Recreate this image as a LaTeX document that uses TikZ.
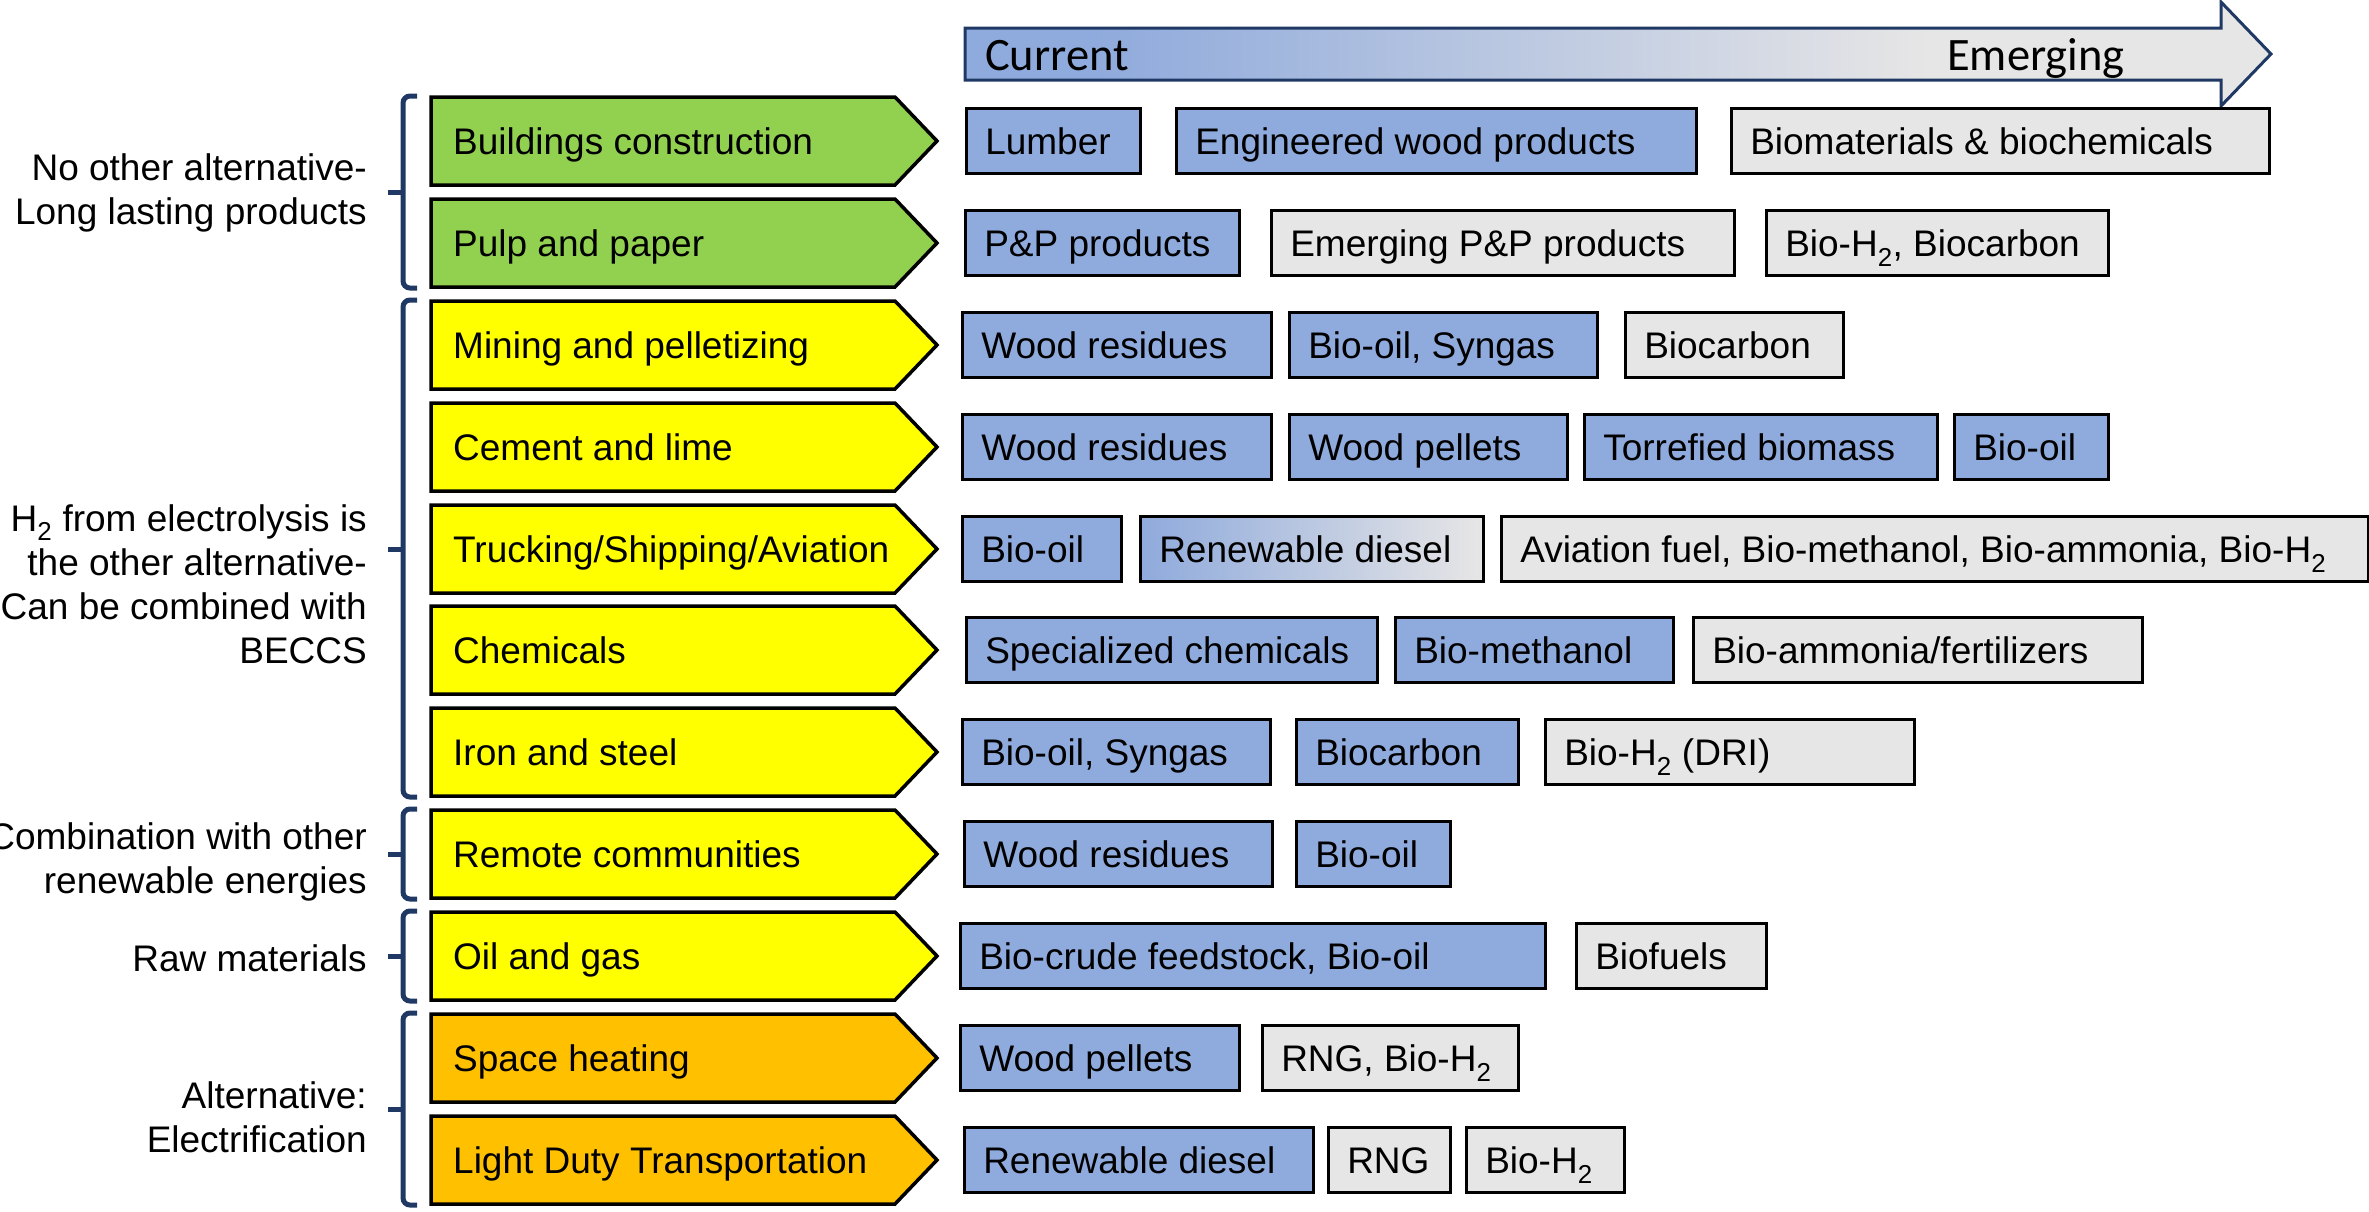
\documentclass[tikz,border=0pt]{standalone}
\usepackage{fontspec}
\setmainfont{Liberation Sans}
\newfontfamily\calibrifont{Carlito}

\definecolor{pblue}{HTML}{8FAADC}
\definecolor{pgray}{HTML}{E7E6E6}
\definecolor{cgreen}{HTML}{92D050}
\definecolor{cyellow}{HTML}{FFFF00}
\definecolor{corange}{HTML}{FFC000}
\definecolor{navy}{HTML}{203864}

% blue on the left, fading to grey towards the arrow head
\pgfdeclarehorizontalshading{curemerg}{100bp}{color(0bp)=(pblue); color(30bp)=(pblue); color(62bp)=(pgray); color(100bp)=(pgray)}

% product box: #1 fill style, #2 name, #3 left x, #4 right x, #5 row y, #6 text
\newcommand{\prodbox}[6]{%
  \pgfmathsetmacro{\prodw}{#4-#3}%
  \node[pbox,#1,minimum width=\prodw pt] (#2) at (#3,#5)
    {\makebox[\dimexpr\prodw pt-38pt\relax][l]{#6}};}

\begin{document}
\begin{tikzpicture}[x=1pt,y=-1pt,
  txt/.style={font=\fontsize{37}{44.3}\selectfont},
  grouplabel/.style={txt, inner sep=0pt, anchor=north east, align=right},
  sectext/.style={txt, inner sep=0pt, anchor=west, text height=27pt, text depth=0pt},
  chevron/.style={draw=black, line width=3.5pt, line join=miter},
  bracket/.style={draw=navy, line width=5pt, rounded corners=7pt},
  pbox/.style={txt, draw=black, line width=2.5pt, anchor=west, minimum height=65pt,
    inner xsep=19pt, inner ysep=0pt, text height=27pt, text depth=0pt},
  current/.style={fill=pblue},
  emerging/.style={fill=pgray},
  mixed/.style={left color=pblue, right color=pgray},
  scaletext/.style={font=\calibrifont\fontsize{46.5}{50}\selectfont, inner sep=0pt, anchor=base west}]

\useasboundingbox (0,0) rectangle (2369,1211);

% current -> emerging arrow
\shadedraw[shading=curemerg, draw=navy, line width=3pt, line join=miter]
  (965,28) -- (2221,28) -- (2221,2) -- (2271,54) -- (2221,106) -- (2221,80) -- (965,80) -- cycle;
\node[scaletext] (cur) at (985,70) {Current};
\node[scaletext] (emg) at (1947,70) {Emerging};

% sector chevrons
\foreach \yc/\col/\txt [count=\i] in {
  141/cgreen/{Buildings construction},
  243/cgreen/{Pulp and paper},
  345/cyellow/{Mining and pelletizing},
  447/cyellow/{Cement and lime},
  549/cyellow/{Trucking/Shipping/Aviation},
  650/cyellow/{Chemicals},
  752/cyellow/{Iron and steel},
  854/cyellow/{Remote communities},
  956/cyellow/{Oil and gas},
  1058/corange/{Space heating},
  1160/corange/{Light Duty Transportation}}{
  \draw[chevron, fill=\col] (431,\yc-44) -- (895,\yc-44) -- (937,\yc) -- (895,\yc+44) -- (431,\yc+44) -- cycle;
  \node[sectext] (sec\i) at (453,\yc) {\txt};
}

% brackets grouping the sectors
\foreach \top/\tip/\bot in {96/192/288, 300/549/797, 809/854/899, 911/956/1001, 1013/1109/1205}{
  \draw[bracket] (417,\top) -- (403,\top) -- (403,\bot) -- (417,\bot);
  \draw[draw=navy, line width=5pt] (403,\tip) -- (388,\tip);
}

% group labels
\node[grouplabel] (g1) at (367,153) {No other alternative-\\Long lasting products};
\node[grouplabel] (g2) at (367,504) {H\textsubscript{2} from electrolysis is\\the other alternative-\\Can be combined with\\BECCS};
\node[grouplabel] (g3) at (367,822) {Combination with other\\renewable energies};
\node[grouplabel] (g4) at (367,944) {Raw materials};
\node[grouplabel] (g5) at (367,1081) {Alternative:\\Electrification};

% products per sector
\prodbox{current}{p1a}{965}{1139}{141}{Lumber}
\prodbox{current}{p1b}{1175}{1695}{141}{Engineered wood products}
\prodbox{emerging}{p1c}{1730}{2268}{141}{Biomaterials \& biochemicals}

\prodbox{current}{p2a}{964}{1238}{243}{P\&P products}
\prodbox{emerging}{p2b}{1270}{1733}{243}{Emerging P\&P products}
\prodbox{emerging}{p2c}{1765}{2107}{243}{Bio-H\textsubscript{2}, Biocarbon}

\prodbox{current}{p3a}{961}{1270}{345}{Wood residues}
\prodbox{current}{p3b}{1288}{1596}{345}{Bio-oil, Syngas}
\prodbox{emerging}{p3c}{1624}{1842}{345}{Biocarbon}

\prodbox{current}{p4a}{961}{1270}{447}{Wood residues}
\prodbox{current}{p4b}{1288}{1566}{447}{Wood pellets}
\prodbox{current}{p4c}{1583}{1936}{447}{Torrefied biomass}
\prodbox{current}{p4d}{1953}{2107}{447}{Bio-oil}

\prodbox{current}{p5a}{961}{1120}{549}{Bio-oil}
\prodbox{mixed}{p5b}{1139}{1482}{549}{Renewable diesel}
\prodbox{emerging}{p5c}{1500}{2367}{549}{Aviation fuel, Bio-methanol, Bio-ammonia, Bio-H\textsubscript{2}}

\prodbox{current}{p6a}{965}{1376}{650}{Specialized chemicals}
\prodbox{current}{p6b}{1394}{1672}{650}{Bio-methanol}
\prodbox{emerging}{p6c}{1692}{2141}{650}{Bio-ammonia/fertilizers}

\prodbox{current}{p7a}{961}{1269}{752}{Bio-oil, Syngas}
\prodbox{current}{p7b}{1295}{1517}{752}{Biocarbon}
\prodbox{emerging}{p7c}{1544}{1913}{752}{Bio-H\textsubscript{2} (DRI)}

\prodbox{current}{p8a}{963}{1271}{854}{Wood residues}
\prodbox{current}{p8b}{1295}{1449}{854}{Bio-oil}

\prodbox{current}{p9a}{959}{1544}{956}{Bio-crude feedstock, Bio-oil}
\prodbox{emerging}{p9b}{1575}{1765}{956}{Biofuels}

\prodbox{current}{p10a}{959}{1238}{1058}{Wood pellets}
\prodbox{emerging}{p10b}{1261}{1517}{1058}{RNG, Bio-H\textsubscript{2}}

\prodbox{current}{p11a}{963}{1312}{1160}{Renewable diesel}
\prodbox{emerging}{p11b}{1327}{1449}{1160}{RNG}
\prodbox{emerging}{p11c}{1465}{1623}{1160}{Bio-H\textsubscript{2}}

\end{tikzpicture}
\end{document}
